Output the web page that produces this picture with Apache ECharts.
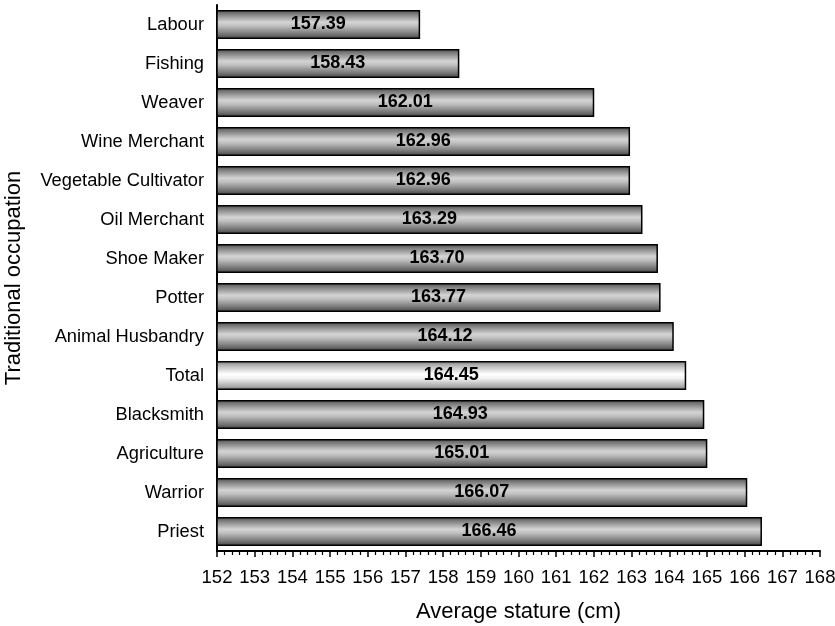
<!DOCTYPE html>
<html>
<head>
<meta charset="utf-8">
<script src="https://cdn.jsdelivr.net/npm/echarts@6/dist/echarts.min.js"></script>
<style>
  html, body { margin: 0; padding: 0; background: #fff; }
  #chart { width: 835px; height: 626px; }
</style>
</head>
<body>
<div id="chart"></div>
<script>
// Occupations listed top to bottom
const occupations = [
  'Labour', 'Fishing', 'Weaver', 'Wine Merchant', 'Vegetable Cultivator',
  'Oil Merchant', 'Shoe Maker', 'Potter', 'Animal Husbandry', 'Total',
  'Blacksmith', 'Agriculture', 'Warrior', 'Priest'
];
// Average stature (cm) for each occupation
const statures = [
  157.39, 158.43, 162.01, 162.96, 162.96,
  163.29, 163.70, 163.77, 164.12, 164.45,
  164.93, 165.01, 166.07, 166.46
];
const xTicks = { min: 152, max: 168, step: 1 };
const totalLabel = 'Total';

const FONT = '"Liberation Sans", Arial, Helvetica, sans-serif';

const greyFill = new echarts.graphic.LinearGradient(0, 0, 0, 1, [
  { offset: 0.00, color: '#4a4a4a' },
  { offset: 0.12, color: '#777777' },
  { offset: 0.42, color: '#d4d4d4' },
  { offset: 0.55, color: '#c0c0c0' },
  { offset: 0.85, color: '#707070' },
  { offset: 1.00, color: '#404040' }
]);
const lightFill = new echarts.graphic.LinearGradient(0, 0, 0, 1, [
  { offset: 0.00, color: '#7a7a7a' },
  { offset: 0.15, color: '#b4b4b4' },
  { offset: 0.45, color: '#ffffff' },
  { offset: 0.60, color: '#f2f2f2' },
  { offset: 0.88, color: '#a8a8a8' },
  { offset: 1.00, color: '#6e6e6e' }
]);

const barData = statures.map((v, i) => ({
  value: v,
  itemStyle: { color: occupations[i] === totalLabel ? lightFill : greyFill }
}));

const chart = echarts.init(document.getElementById('chart'), null, { renderer: 'canvas' });
chart.setOption({
  animation: false,
  backgroundColor: '#ffffff',
  grid: {
    left: 217, right: 15, top: 5, bottom: 75,
    containLabel: false,
    outerBoundsMode: 'none'
  },
  xAxis: {
    type: 'value',
    min: xTicks.min,
    max: xTicks.max,
    interval: xTicks.step,
    name: 'Average stature (cm)',
    nameLocation: 'middle',
    nameGap: 50,
    nameTextStyle: { fontFamily: FONT, fontSize: 22, color: '#000' },
    axisLine: { show: true, lineStyle: { color: '#000', width: 2 } },
    axisTick: { show: true, length: 6, lineStyle: { color: '#000', width: 1.5 } },
    minorTick: { show: true, splitNumber: 5, length: 4, lineStyle: { color: '#000', width: 1.2 } },
    splitLine: { show: false },
    axisLabel: { fontFamily: FONT, fontSize: 18.5, color: '#000', margin: 17 }
  },
  yAxis: {
    type: 'category',
    data: occupations,
    inverse: true,
    name: 'Traditional occupation',
    nameLocation: 'middle',
    nameGap: 192,
    nameRotate: 90,
    nameTextStyle: { fontFamily: FONT, fontSize: 22, color: '#000' },
    axisLine: { show: true, lineStyle: { color: '#000', width: 2 } },
    axisTick: { show: false },
    axisLabel: { fontFamily: FONT, fontSize: 18.3, color: '#000', margin: 13 }
  },
  series: [{
    type: 'bar',
    data: barData,
    barWidth: 29,
    itemStyle: { borderColor: '#000', borderWidth: 1.5 },
    label: {
      show: true,
      position: 'inside',
      formatter: p => p.value.toFixed(2),
      fontFamily: FONT,
      fontSize: 18,
      fontWeight: 'bold',
      color: '#000'
    }
  }]
});
</script>
</body>
</html>
